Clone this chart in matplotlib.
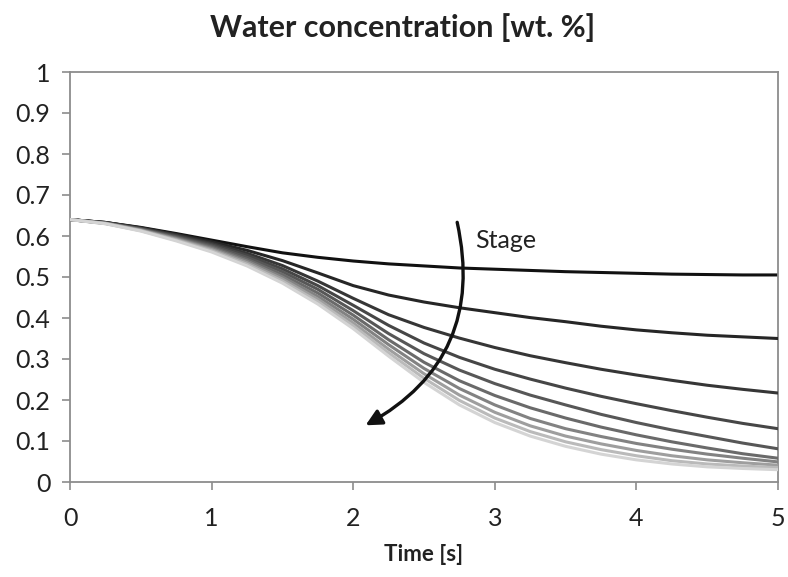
import matplotlib
matplotlib.use("Agg")
import matplotlib.pyplot as plt
from matplotlib.patches import FancyArrowPatch

plt.rcParams['font.family'] = ['Lato', 'DejaVu Sans']

time_s = [0, 0.25, 0.5, 0.75, 1.0, 1.25, 1.5, 1.75, 2.0, 2.25, 2.5,
          2.75, 3.0, 3.25, 3.5, 3.75, 4.0, 4.25, 4.5, 4.75, 5.0]

stage1 = [0.640, 0.633, 0.621, 0.606, 0.590, 0.574, 0.559, 0.548, 0.539, 0.532, 0.527,
          0.522, 0.519, 0.516, 0.513, 0.511, 0.509, 0.507, 0.506, 0.505, 0.505]
stage2 = [0.640, 0.633, 0.620, 0.604, 0.586, 0.565, 0.540, 0.510, 0.479, 0.456, 0.439,
          0.425, 0.413, 0.401, 0.391, 0.380, 0.371, 0.364, 0.358, 0.354, 0.350]
stage3 = [0.640, 0.633, 0.619, 0.602, 0.582, 0.558, 0.528, 0.490, 0.448, 0.408, 0.377,
          0.351, 0.328, 0.308, 0.291, 0.275, 0.261, 0.248, 0.236, 0.226, 0.217]
stage4 = [0.640, 0.632, 0.618, 0.600, 0.579, 0.553, 0.520, 0.479, 0.431, 0.382, 0.339,
          0.304, 0.275, 0.251, 0.229, 0.209, 0.191, 0.174, 0.158, 0.143, 0.130]
stage5 = [0.640, 0.632, 0.617, 0.598, 0.576, 0.548, 0.513, 0.470, 0.418, 0.362, 0.313,
          0.273, 0.240, 0.212, 0.188, 0.165, 0.145, 0.127, 0.111, 0.095, 0.081]
stage6 = [0.640, 0.631, 0.616, 0.596, 0.573, 0.543, 0.506, 0.461, 0.407, 0.347, 0.292,
          0.247, 0.211, 0.181, 0.156, 0.134, 0.115, 0.098, 0.083, 0.069, 0.058]
stage7 = [0.640, 0.631, 0.615, 0.594, 0.570, 0.539, 0.500, 0.453, 0.397, 0.335, 0.277,
          0.228, 0.188, 0.155, 0.130, 0.111, 0.094, 0.080, 0.068, 0.058, 0.049]
stage8 = [0.640, 0.631, 0.614, 0.592, 0.567, 0.535, 0.495, 0.446, 0.388, 0.324, 0.264,
          0.212, 0.170, 0.137, 0.112, 0.093, 0.077, 0.064, 0.054, 0.047, 0.041]
stage9 = [0.640, 0.630, 0.613, 0.590, 0.564, 0.531, 0.490, 0.440, 0.381, 0.315, 0.253,
          0.199, 0.156, 0.123, 0.098, 0.079, 0.064, 0.052, 0.044, 0.039, 0.035]
stage10 = [0.640, 0.630, 0.612, 0.588, 0.561, 0.527, 0.485, 0.434, 0.374, 0.307, 0.243,
           0.188, 0.145, 0.112, 0.087, 0.068, 0.054, 0.044, 0.037, 0.033, 0.030]

stages = [stage1, stage2, stage3, stage4, stage5, stage6, stage7, stage8, stage9, stage10]
colors = ['#111111', '#262626', '#363636', '#464646', '#575757',
          '#6a6a6a', '#828282', '#9e9e9e', '#bababa', '#d4d4d4']

x_ticks = [0, 1, 2, 3, 4, 5]
y_ticks = [0, 0.1, 0.2, 0.3, 0.4, 0.5, 0.6, 0.7, 0.8, 0.9, 1]
y_tick_labels = ['0', '0.1', '0.2', '0.3', '0.4', '0.5', '0.6', '0.7', '0.8', '0.9', '1']

fig = plt.figure(figsize=(7.88, 5.77), dpi=100)
ax = fig.add_axes([70 / 788, 1 - 482 / 577, 708 / 788, 410 / 577])

for i, (vals, c) in enumerate(zip(stages, colors)):
    ax.plot(time_s, vals, color=c, lw=2.2, zorder=2 + i, solid_capstyle='round',
            solid_joinstyle='round')

ax.set_xlim(0, 5)
ax.set_ylim(0, 1)
ax.set_xticks(x_ticks)
ax.set_yticks(y_ticks)
ax.set_yticklabels(y_tick_labels)
ax.tick_params(axis='both', direction='out', length=6, width=1.2, color='#8c8c8c',
               labelsize=18, labelcolor='#222222')
ax.tick_params(axis='x', pad=12)
ax.tick_params(axis='y', pad=8)
for s in ax.spines.values():
    s.set_color('#8c8c8c')
    s.set_linewidth(1.3)

ax.set_xlabel('Time [s]', fontsize=16, fontweight='bold', color='#222222', labelpad=10)
fig.text(403 / 788, 1 - 28 / 577, 'Water concentration [wt. %]', fontsize=22,
         fontweight='bold', ha='center', va='center', color='#222222')

arrow = FancyArrowPatch((2.73, 0.64), (2.07, 0.135), connectionstyle='arc3,rad=-0.38',
                        arrowstyle='-|>,head_length=0.6,head_width=0.3', mutation_scale=16,
                        lw=2.4, color='#111111', zorder=20)
ax.add_patch(arrow)
ax.text(2.86, 0.588, 'Stage', fontsize=18, color='#222222', ha='left', va='center')

fig.savefig('out.png', dpi=100)
